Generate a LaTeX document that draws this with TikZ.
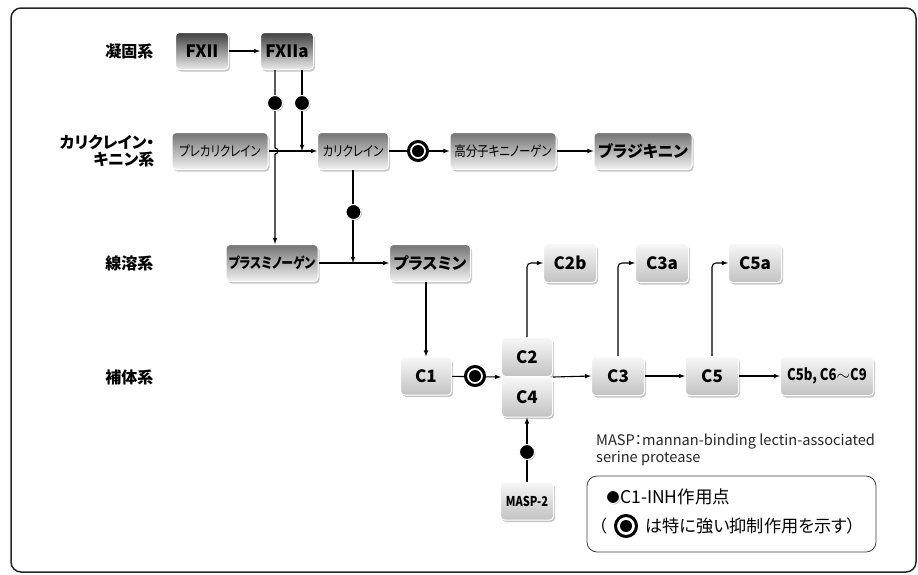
\documentclass[tikz,border=0pt]{standalone}
\usepackage{fontspec}
\setmainfont{Noto Sans CJK JP}[RawFeature=+palt]
\newfontfamily\condfont{Noto Sans CJK JP}[RawFeature=+palt, FakeStretch=0.82]
\usepackage{tikz}
\usetikzlibrary{arrows,shapes,shadows}
\usetikzlibrary{positioning}
\tikzstyle{fs}=[font=\bfseries\fontsize{15}{15}\selectfont]
\tikzstyle{cfs}=[font=\bfseries\fontsize{17}{17}\selectfont]
\tikzstyle{box}=[draw=white, line width=1pt, rounded corners=4pt, inner sep=0pt,
                minimum height=37pt, minimum width=53pt,
                drop shadow={shadow xshift=1.5pt,shadow yshift=-2pt,opacity=0.45}]
\tikzstyle{dark box}=[box, top color=black!75, bottom color=black!8, cfs]
\tikzstyle{mid box}=[box, top color=black!55, bottom color=black!5, fs]
\tikzstyle{light box}=[box, top color=black!3, bottom color=black!24, cfs]
\tikzstyle{thin}=[font=\condfont\fontsize{14}{14}\selectfont]
\tikzstyle{sys}=[anchor=east, align=right, font=\bfseries\fontsize{16}{17}\selectfont]
\tikzstyle{inh}=[circle, fill=black, draw=white, line width=1pt, minimum size=15pt,
                inner sep=0pt, drop shadow={shadow xshift=1pt,shadow yshift=-1pt,opacity=0.5}]
\tikzstyle{inh strong}=[circle, fill=white, draw=black, line width=3pt, minimum size=19pt,
                inner sep=0pt, drop shadow={shadow xshift=1.2pt,shadow yshift=-1.2pt,opacity=0.5},
                path picture={\fill[black] (path picture bounding box.center) circle (6pt);}]
\tikzstyle{link}=[->, >=latex, line width=1.1pt]

\begin{document}
\begin{tikzpicture}[x=1pt, y=-1pt]
\useasboundingbox (0,0) rectangle (918,574);
\draw[line width=1.5pt, rounded corners=10pt, black!85] (11,8) rectangle (916,572);

% system labels
\node[sys] (coag) at (157,51) {凝固系};
\node[sys] (kin) at (158,151) {カリクレイン・\\キニン系};
\node[sys] (fib) at (157,263) {線溶系};
\node[sys] (comp) at (157,377) {補体系};

% factors
\node[dark box] (fxii) at (202,51) {FXII};
\node[dark box] (fxiia) at (287,51) {FXIIa};
\node[mid box, thin, minimum width=96pt] (prekal) at (220,151) {プレカリクレイン};
\node[mid box, thin, minimum width=71pt] (kal) at (353,151) {カリクレイン};
\node[mid box, thin, minimum width=106pt] (hmwk) at (503,151) {高分子キニノーゲン};
\node[mid box, minimum width=98pt, font=\bfseries\fontsize{16}{16}\selectfont] (bk) at (643,151) {ブラジキニン};
\node[mid box, minimum width=92pt, font=\condfont\bfseries\fontsize{14.5}{14.5}\selectfont] (plg) at (272,263) {プラスミノーゲン};
\node[mid box, minimum width=81pt, font=\bfseries\fontsize{16}{16}\selectfont] (plm) at (430,263) {プラスミン};

% complement
\node[light box, minimum height=39pt] (c2b) at (570,263) {C2b};
\node[light box, minimum height=39pt] (c3a) at (662,263) {C3a};
\node[light box, minimum height=39pt] (c5a) at (755,263) {C5a};
\node[light box, minimum width=51pt, minimum height=38pt] (c1) at (426,376) {C1};
\node[light box, minimum width=51pt, minimum height=39pt] (c2) at (527,357) {C2};
\node[light box, minimum width=51pt, minimum height=40pt] (c4) at (527,397) {C4};
\node[light box, minimum height=39pt] (c3) at (618,376) {C3};
\node[light box, minimum height=39pt] (c5) at (712,376) {C5};
\node[light box, minimum width=93pt, minimum height=39pt, font=\condfont\bfseries\fontsize{16}{16}\selectfont] (c5b) at (827,376) {C5b, C6$\sim$C9};
\node[light box, minimum height=38pt, font=\condfont\bfseries\fontsize{13.5}{13.5}\selectfont] (masp) at (527,501) {MASP-2};

\coordinate (hop) at (275,151);
\draw[link] (fxii) -- (fxiia);
\draw[link] ([xshift=-12pt]fxiia.south) -- ([yshift=3pt]hop)
    arc[start angle=90, end angle=-90, radius=3pt] -- (plg.north -| hop);
\draw[link] ([xshift=15pt]fxiia.south) -- ([xshift=15pt]fxiia.south |- kal.west);
\draw[link] (prekal) -- (kal);
\draw[link] (kal) -- (hmwk);
\draw[link] (hmwk) -- (bk);
\draw[link] (kal.south) -- (kal.south |- plg.east);
\draw[link] (plg) -- (plm);
\draw[link] (plm.south -| c1.north) -- (c1.north);
\draw[link] (c1) -- (c2.south west);
\draw[link] (c2.south east) -- (c3.west);
\draw[link] (c3) -- (c5);
\draw[link] (c5) -- (c5b);
\draw[link, rounded corners=4pt] (c2.north) |- (c2b.west);
\draw[link, rounded corners=4pt] (c3.north) |- (c3a.west);
\draw[link, rounded corners=4pt] (c5.north) |- (c5a.west);
\draw[link] (masp) -- (c4);

% C1-INH
\node[inh] (i1) at (275,103) {};
\node[inh] (i2) at (302,103) {};
\node[inh] (i3) at (353.5,212) {};
\node[inh] (i4) at (527,452) {};
\node[inh strong] (s1) at (418,151) {};
\node[inh strong] (s2) at (475,376) {};

% notes
\node[anchor=north west, align=left, inner sep=0pt, text=black!85, font=\fontsize{14.6}{17}\selectfont] (note)
    at (596,434) {MASP：mannan-binding lectin-associated\\serine protease};
\node[draw=black!75, line width=0.8pt, rounded corners=10pt, minimum width=289pt, minimum height=76pt] (legend) at (731.5,514) {};
\node[inh, minimum size=13pt] (li) at (613,497) {};
\node[anchor=west, inner sep=0pt, font=\fontsize{17.5}{17.5}\selectfont] (lt1) at (620,497) {C1-INH作用点};
\node[anchor=west, inner sep=0pt, font=\fontsize{17}{17}\selectfont] (lp) at (598,526) {（};
\node[inh strong, minimum size=21pt] (ls) at (626,526) {};
\node[anchor=west, inner sep=0pt, font=\fontsize{17.2}{17.2}\selectfont] (lt2) at (645,526) {は特に強い抑制作用を示す）};
\end{tikzpicture}
\end{document}
